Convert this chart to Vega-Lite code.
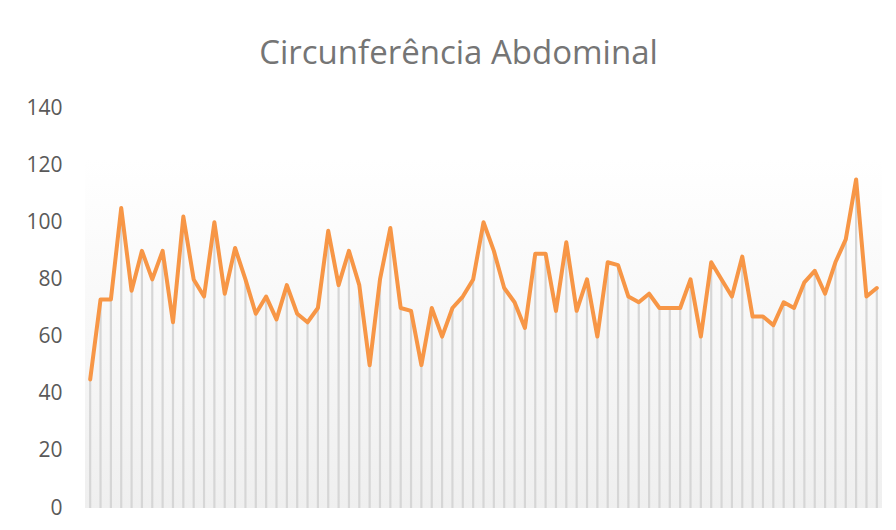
{
  "$schema": "https://vega.github.io/schema/vega-lite/v6.json",
  "autosize": "none",
  "width": 797,
  "height": 400,
  "padding": {"left": 85, "top": 108, "right": 14, "bottom": 22},
  "background": "#ffffff",
  "config": {
    "view": {"stroke": null},
    "axisX": {"disable": true},
    "axisY": {
      "grid": false,
      "domain": false,
      "ticks": false,
      "tickCount": 7,
      "labelPadding": 23,
      "labelFont": "Open Sans",
      "labelFontSize": 21,
      "labelColor": "#595959"
    }
  },
  "title": {
    "text": "Circunferência Abdominal",
    "font": "Open Sans",
    "fontSize": 33,
    "fontWeight": "normal",
    "color": "#757575",
    "anchor": "middle",
    "dx": -25,
    "offset": 26
  },
  "data": {
    "values": [
      {"i": 1, "v": 45}, {"i": 2, "v": 73}, {"i": 3, "v": 73}, {"i": 4, "v": 105}, {"i": 5, "v": 76},
      {"i": 6, "v": 90}, {"i": 7, "v": 80}, {"i": 8, "v": 90}, {"i": 9, "v": 65}, {"i": 10, "v": 102},
      {"i": 11, "v": 80}, {"i": 12, "v": 74}, {"i": 13, "v": 100}, {"i": 14, "v": 75}, {"i": 15, "v": 91},
      {"i": 16, "v": 80}, {"i": 17, "v": 68}, {"i": 18, "v": 74}, {"i": 19, "v": 66}, {"i": 20, "v": 78},
      {"i": 21, "v": 68}, {"i": 22, "v": 65}, {"i": 23, "v": 70}, {"i": 24, "v": 97}, {"i": 25, "v": 78},
      {"i": 26, "v": 90}, {"i": 27, "v": 78}, {"i": 28, "v": 50}, {"i": 29, "v": 80}, {"i": 30, "v": 98},
      {"i": 31, "v": 70}, {"i": 32, "v": 69}, {"i": 33, "v": 50}, {"i": 34, "v": 70}, {"i": 35, "v": 60},
      {"i": 36, "v": 70}, {"i": 37, "v": 74}, {"i": 38, "v": 80}, {"i": 39, "v": 100}, {"i": 40, "v": 90},
      {"i": 41, "v": 77}, {"i": 42, "v": 72}, {"i": 43, "v": 63}, {"i": 44, "v": 89}, {"i": 45, "v": 89},
      {"i": 46, "v": 69}, {"i": 47, "v": 93}, {"i": 48, "v": 69}, {"i": 49, "v": 80}, {"i": 50, "v": 60},
      {"i": 51, "v": 86}, {"i": 52, "v": 85}, {"i": 53, "v": 74}, {"i": 54, "v": 72}, {"i": 55, "v": 75},
      {"i": 56, "v": 70}, {"i": 57, "v": 70}, {"i": 58, "v": 70}, {"i": 59, "v": 80}, {"i": 60, "v": 60},
      {"i": 61, "v": 86}, {"i": 62, "v": 80}, {"i": 63, "v": 74}, {"i": 64, "v": 88}, {"i": 65, "v": 67},
      {"i": 66, "v": 67}, {"i": 67, "v": 64}, {"i": 68, "v": 72}, {"i": 69, "v": 70}, {"i": 70, "v": 79},
      {"i": 71, "v": 83}, {"i": 72, "v": 75}, {"i": 73, "v": 86}, {"i": 74, "v": 94}, {"i": 75, "v": 115},
      {"i": 76, "v": 74}, {"i": 77, "v": 77}
    ]
  },
  "layer": [
    {
      "mark": {
        "type": "rect",
        "fill": {
          "gradient": "linear",
          "x1": 0, "y1": 0, "x2": 0, "y2": 1,
          "stops": [
            {"offset": 0, "color": "#ffffff"},
            {"offset": 1, "color": "#efefef"}
          ]
        }
      },
      "encoding": {
        "x": {"value": 0},
        "x2": {"value": "width"},
        "y": {"datum": 122, "type": "quantitative", "scale": {"domain": [0, 140], "nice": false}, "axis": {"title": null}},
        "y2": {"datum": 0}
      }
    },
    {
      "mark": {"type": "rule", "color": "#d6d6d6", "strokeWidth": 2.2},
      "encoding": {
        "x": {"field": "i", "type": "ordinal", "scale": {"type": "point", "padding": 0.5}},
        "y": {"field": "v", "type": "quantitative", "scale": {"domain": [0, 140], "nice": false}, "axis": {"title": null}},
        "y2": {"datum": 0}
      }
    },
    {
      "mark": {"type": "line", "color": "#f79646", "strokeWidth": 4, "strokeJoin": "round", "strokeCap": "round"},
      "encoding": {
        "x": {"field": "i", "type": "ordinal", "scale": {"type": "point", "padding": 0.5}},
        "y": {"field": "v", "type": "quantitative", "scale": {"domain": [0, 140], "nice": false}, "axis": {"title": null}}
      }
    }
  ]
}
